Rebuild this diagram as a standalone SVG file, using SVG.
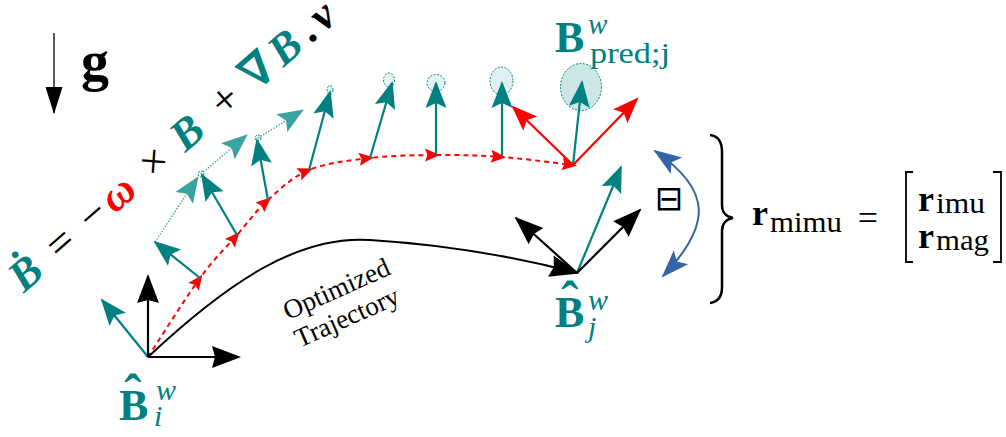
<svg xmlns="http://www.w3.org/2000/svg" width="1006" height="437" viewBox="0 0 1006 437">
<style>
.t{fill:#008080}
.s{font-family:"Liberation Serif","DejaVu Serif",serif}
.b{font-weight:bold}
.i{font-style:italic}
.ln{fill:none;stroke-linecap:butt}
.teal{stroke:#008080;stroke-width:2.2;marker-end:url(#mT)}
.blk{stroke:#000;stroke-width:2.2;marker-end:url(#mK)}
.red{stroke:#ff0000;stroke-width:2.2;marker-end:url(#mRL)}
.lt{stroke:#38a3a0;stroke-width:1.3;stroke-dasharray:1.5 1.5;marker-end:url(#mTL)}
.unc{stroke:#008080;stroke-width:1;stroke-dasharray:2 1.5}
</style>
<defs>
<marker id="mT" markerUnits="userSpaceOnUse" orient="auto" overflow="visible" markerWidth="1" markerHeight="1"><path d="M2,0 L-25,-10.5 L-20,0 L-25,10.5 Z" fill="#008080"/></marker>
<marker id="mTL" markerUnits="userSpaceOnUse" orient="auto" overflow="visible" markerWidth="1" markerHeight="1"><path d="M1,0 L-25,-10.5 L-20,0 L-25,10.5 Z" fill="#38a3a0"/></marker>
<marker id="mK" markerUnits="userSpaceOnUse" orient="auto" overflow="visible" markerWidth="1" markerHeight="1"><path d="M2,0 L-27,-11 L-24,0 L-27,11 Z" fill="#000"/></marker>
<marker id="mRL" markerUnits="userSpaceOnUse" orient="auto" overflow="visible" markerWidth="1" markerHeight="1"><path d="M2,0 L-24,-10 L-19,0 L-24,10 Z" fill="#ff0000"/></marker>
<marker id="mRS" markerUnits="userSpaceOnUse" orient="auto" overflow="visible" markerWidth="1" markerHeight="1"><path d="M4,0 L-11,-6.5 L-8.5,0 L-11,6.5 Z" fill="#ff0000"/></marker>
<marker id="mG" markerUnits="userSpaceOnUse" orient="auto" overflow="visible" markerWidth="1" markerHeight="1"><path d="M1,0 L-26,-8.5 L-26,8.5 Z" fill="#000"/></marker>
<marker id="mB" markerUnits="userSpaceOnUse" orient="auto-start-reverse" overflow="visible" markerWidth="1" markerHeight="1"><path d="M2,0 L-26,-10 L-20,0 L-26,10 Z" fill="#3465a4"/></marker>
</defs>

<g id="gravity">
<path class="ln" d="M54,33 L54,113" stroke="#000" stroke-width="1.3" marker-end="url(#mG)"/>
<text class="s b" x="81" y="80" font-size="56">g</text>
</g>

<g id="formula" transform="translate(22,295) rotate(-41)">
<text class="s" font-size="44" text-anchor="middle" y="0"><tspan class="t b i" x="17">Ḃ</tspan><tspan x="63">=</tspan><tspan x="106">−</tspan><tspan class="b i" fill="#ff0000" x="139">ω</tspan><tspan x="187">×</tspan><tspan class="t b i" x="231">B</tspan><tspan x="281">+</tspan><tspan class="t" x="325" stroke="#008080" stroke-width="1.6">∇</tspan><tspan class="t b i" x="361">B</tspan><tspan class="b" x="388">.</tspan><tspan class="b i" x="410">v</tspan></text>
</g>

<g id="uncertainty">
<ellipse class="unc" cx="330" cy="90" rx="3" ry="4.5" fill="#008080" fill-opacity="0.1"/>
<ellipse class="unc" cx="389" cy="80" rx="5.5" ry="7" fill="#008080" fill-opacity="0.1"/>
<ellipse class="unc" cx="436" cy="83" rx="9" ry="8.5" fill="#008080" fill-opacity="0.1"/>
<ellipse class="unc" cx="501.5" cy="81" rx="11.5" ry="14" fill="#008080" fill-opacity="0.12"/>
<ellipse class="unc" cx="581" cy="87" rx="20.5" ry="23.5" fill="#008080" fill-opacity="0.2"/>
<circle class="unc" cx="201" cy="174" r="3" fill="#008080" fill-opacity="0.1"/>
<circle class="unc" cx="258" cy="138" r="3" fill="#008080" fill-opacity="0.1"/>
</g>

<g id="connectors">
<path class="ln" d="M148,357 C156.7,343.8 185.2,298.3 200,278 C214.8,257.7 225.7,248 237,235 C248.3,222 256,210.8 268,200 C280,189.2 292,177 309,170 C326,163 348.8,160.5 370,158 C391.2,155.5 414,155.2 436,155 C458,154.8 479.2,155.3 502,157 C524.8,158.7 561.2,163.7 573,165" stroke="#ff0000" stroke-width="2" stroke-dasharray="5 4" marker-mid="url(#mRS)" marker-end="url(#mRS)"/>
<path class="ln" d="M148,357 C230,280 300,235 370,240 C450,245 520,258 577,273" stroke="#000" stroke-width="2" marker-end="url(#mK)"/>
<path class="ln lt" d="M155,242 L198,177"/>
<path class="ln lt" d="M201,174 L247,135"/>
<path class="ln lt" d="M258,138 L303,110"/>
<path class="ln teal" d="M200,278 L155,242"/>
<path class="ln teal" d="M237,235 L202,175"/>
<path class="ln teal" d="M268,200 L257,140"/>
<path class="ln teal" d="M309,170 L330,92"/>
<path class="ln teal" d="M370,158 L392,83"/>
<path class="ln teal" d="M436,155 L436,83"/>
<path class="ln teal" d="M502,156 L502,83"/>
<path class="ln teal" d="M573,165 L582,82"/>
<path class="ln red" d="M573,165 L513,107"/>
<path class="ln red" d="M573,165 L637,99"/>
<path class="ln" d="M655,151 C712,190 712,225 663,276" stroke="#3465a4" stroke-width="2" marker-start="url(#mB)" marker-end="url(#mB)"/>
</g>

<g id="frame-i">
<path class="ln teal" d="M148,357 L102,300"/>
<path class="ln blk" d="M148,357 L148,276"/>
<path class="ln blk" d="M148,357 L239,357"/>
<text class="s b t" x="133" y="411" font-size="52" text-anchor="middle">ˆ</text>
<text class="s b t" x="119" y="420" font-size="44">B</text>
<text class="s i t" x="156" y="400" font-size="30">w</text>
<text class="s i t" x="154" y="426" font-size="30">i</text>
</g>

<g id="frame-j">
<path class="ln teal" d="M577,273 L621,167"/>
<path class="ln blk" d="M577,273 L516,218"/>
<path class="ln blk" d="M577,273 L640,210"/>
<text class="s b t" x="570" y="318" font-size="52" text-anchor="middle">ˆ</text>
<text class="s b t" x="555" y="327" font-size="44">B</text>
<text class="s i t" x="588" y="310" font-size="30">w</text>
<text class="s i t" x="588" y="337" font-size="30">j</text>
</g>

<g id="pred-label">
<text class="s b t" x="555" y="52" font-size="44">B</text>
<text class="s i t" x="588" y="34" font-size="29">w</text>
<text class="s t" x="590" y="63" font-size="30" textLength="80" lengthAdjust="spacingAndGlyphs">pred;j</text>
</g>

<g id="traj-label" transform="translate(340,297) rotate(-24)">
<text class="s" x="0" y="0" font-size="27" text-anchor="middle">Optimized</text>
<text class="s" x="-2" y="30" font-size="27" text-anchor="middle">Trajectory</text>
</g>

<g id="boxminus">
<text x="669" y="210" font-family="DejaVu Sans,sans-serif" font-size="34" text-anchor="middle">⊟</text>
</g>

<g id="residual">
<path d="M710,135 C718,136 722,142 722,152 L722,205 C722,212 726,217 733,218 C726,219 722,224 722,231 L722,287 C722,297 718,302 710,303" fill="none" stroke="#000" stroke-width="2.5"/>
<text class="s b" x="752" y="225" font-size="36">r</text>
<text class="s" x="770" y="232" font-size="29" textLength="72" lengthAdjust="spacingAndGlyphs">mimu</text>
<text class="s" x="868" y="230" font-size="36" text-anchor="middle">=</text>
<path d="M913,172 H906 V262 H913 M993,172 H1001 V262 H993" fill="none" stroke="#000" stroke-width="1.8"/>
<text class="s b" x="918" y="211" font-size="36">r</text>
<text class="s" x="936" y="213" font-size="29" textLength="49" lengthAdjust="spacingAndGlyphs">imu</text>
<text class="s b" x="918" y="248" font-size="36">r</text>
<text class="s" x="936" y="250" font-size="29" textLength="53" lengthAdjust="spacingAndGlyphs">mag</text>
</g>
</svg>
